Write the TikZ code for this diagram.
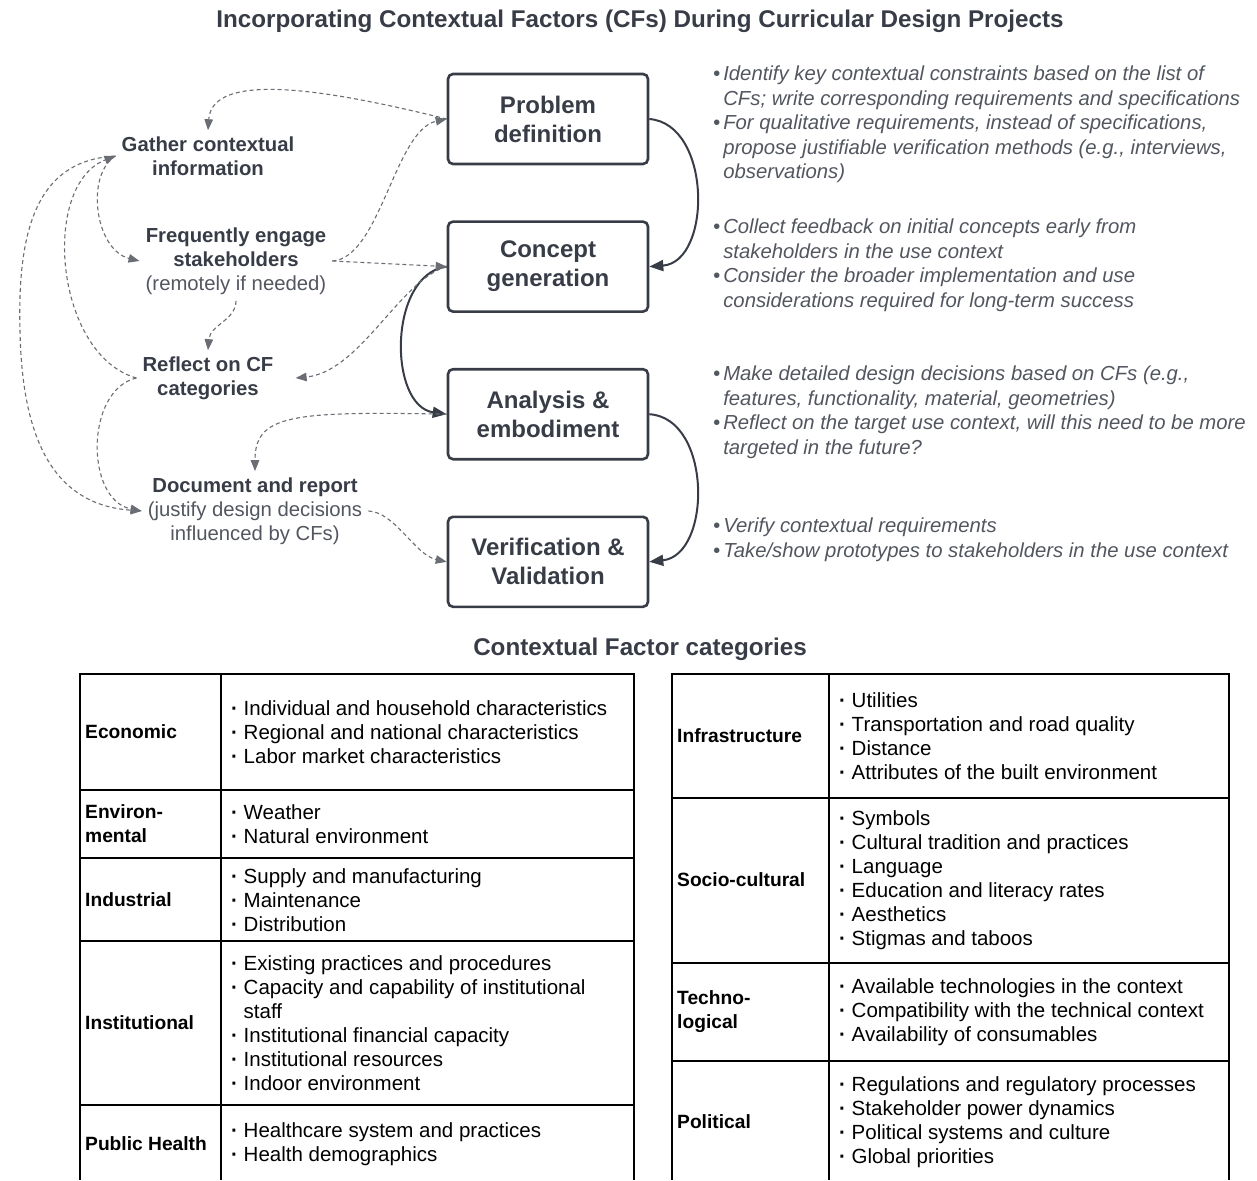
\documentclass[tikz,border=0pt]{standalone}
\usepackage{fontspec}
\setmainfont{Liberation Sans}
\usepackage{xcolor}
\usetikzlibrary{
  arrows.meta,
  positioning
}
\definecolor{ink}{RGB}{56,60,70}
\definecolor{tipgray}{RGB}{82,86,95}
\newcommand{\bul}{\textbullet\hspace{3pt}}
\newcommand{\tipind}{\hphantom{\bul}}
\newcommand{\cfdot}{{\bfseries ·}\ }
\newcommand{\aside}[1]{{\mdseries\color{tipgray}#1}}
\tikzset{
  stage box/.style={
    draw=ink, line width=2.6pt, rounded corners=5pt,
    minimum width=200pt, minimum height=90pt,
    align=center, text=ink,
    font=\fontsize{24}{29}\selectfont\bfseries
  },
  act label/.style={
    align=center, text=ink, inner sep=6pt,
    font=\fontsize{20.3}{24.2}\selectfont\bfseries
  },
  note text/.style={
    anchor=north west, align=left, inner sep=0pt, text=tipgray,
    font=\fontsize{20.3}{24.4}\selectfont\itshape
  },
  head text/.style={
    text=ink, inner sep=0pt,
    font=\fontsize{24.2}{29}\selectfont\bfseries
  },
  flow/.style={
    draw=ink, line width=2pt, -{Triangle[length=14pt,width=11pt]}
  },
  link/.style={
    draw=ink!75, line width=1.1pt, dash pattern=on 4pt off 3pt,
    -{Triangle[length=11pt,width=8.5pt]}
  },
  grid line/.style={
    draw=black, line width=2.4pt, line join=miter
  },
  cat name/.style={
    anchor=west, align=left, inner sep=0pt,
    font=\fontsize{19.2}{24}\selectfont\bfseries
  },
  cat items/.style={
    anchor=west, align=left, inner sep=0pt,
    font=\fontsize{20.5}{23.9}\selectfont
  },
}
\begin{document}
\begin{tikzpicture}[x=1pt, y=-1pt]
  \useasboundingbox (0,0) rectangle (1257,1180);

  \node[head text] (title) at (640,21)
    {Incorporating Contextual Factors (CFs) During Curricular Design Projects};

  % design stages
  \node[stage box] (prob) at (548,119) {Problem\\definition};
  \node[stage box, below=55pt of prob] (conc) {Concept\\generation};
  \node[stage box, below=55pt of conc] (anly) {Analysis \&\\embodiment};
  \node[stage box, below=55pt of anly] (veri) {Verification \&\\Validation};

  % contextual activities
  \node[act label] (gather)  at (208,156) {Gather contextual\\information};
  \node[act label] (engage)  at (236,261)
    {Frequently engage\\stakeholders\\\aside{(remotely if needed)}};
  \node[act label] (reflect) at (208,378) {Reflect on CF\\categories};
  \node[act label] (doc)     at (255,511)
    {Document and report\\\aside{(justify design decisions}\\\aside{influenced by CFs)}};

  % notes per stage
  \node[note text] (probnote) at (713,66)
    {\bul Identify key contextual constraints based on the list of\\
     \tipind CFs; write corresponding requirements and specifications\\
     \bul For qualitative requirements, instead of specifications,\\
     \tipind propose justifiable verification methods (e.g., interviews,\\
     \tipind observations)};
  \node[note text] (concnote) at (713,219)
    {\bul Collect feedback on initial concepts early from\\
     \tipind stakeholders in the use context\\
     \bul Consider the broader implementation and use\\
     \tipind considerations required for long-term success};
  \node[note text] (anlynote) at (713,366)
    {\bul Make detailed design decisions based on CFs (e.g.,\\
     \tipind features, functionality, material, geometries)\\
     \bul Reflect on the target use context, will this need to be more\\
     \tipind targeted in the future?};
  \node[note text] (verinote) at (713,518)
    {\bul Verify contextual requirements\\
     \bul Take/show prototypes to stakeholders in the use context};

  % stage flow
  \draw[flow] (prob.east) .. controls (712,124) and (712,262) .. (conc.east);
  \draw[flow] (conc.west) .. controls (388,274) and (388,406) .. (anly.west);
  \draw[flow] (anly.east) .. controls (712,418) and (712,555) .. (veri.east);

  % context links
  \coordinate (farleft) at (20,330);
  \draw[link] (prob.west) .. controls (330,90) and (212,70) .. (gather.north);
  \draw[link] (engage.east) .. controls (380,258) and (395,130) .. (prob.west);
  \draw[link] (engage.east) -- (conc.west);
  \draw[link] (conc.west) .. controls (400,280) and (360,372) .. ([xshift=16pt]reflect.east);
  \draw[link] (gather.west) .. controls (85,175) and (95,250) .. (engage.west);
  \draw[link] (reflect.west) .. controls (55,355) and (40,185) .. (gather.west);
  \draw[link] (gather.west) .. controls (42,160) and (17,220) .. (farleft)
    .. controls (22,450) and (60,505) .. (doc.west);
  \draw[link] (reflect.west) .. controls (85,390) and (85,500) .. (doc.west);
  \draw[link] (engage.south) .. controls (236,320) and (210,325) .. (reflect.north);
  \draw[link] (anly.west) .. controls (290,411) and (255,415) .. (doc.north);
  \draw[link] (doc.east) .. controls (395,512) and (415,555) .. (veri.west);

  % categories
  \node[head text] (cftitle) at (640,649) {Contextual Factor categories};

  \draw[grid line] (80,1180) -- (80,674) -- (634,674) -- (634,1180);
  \draw[grid line] (221,674) -- (221,1180);
  \foreach \y in {790,858,941,1105}
    \draw[grid line] (80,\y) -- (634,\y);

  \draw[grid line] (672,1180) -- (672,674) -- (1229,674) -- (1229,1180);
  \draw[grid line] (829,674) -- (829,1180);
  \foreach \y in {798,963,1061}
    \draw[grid line] (672,\y) -- (1229,\y);

  \node[cat name] (econ) at (85,732) {Economic};
  \node[cat items] (econlist) at (231,732)
    {\cfdot Individual and household characteristics\\
     \cfdot Regional and national characteristics\\
     \cfdot Labor market characteristics};
  \node[cat name] (envi) at (85,824) {Environ-\\mental};
  \node[cat items] (envilist) at (231,824)
    {\cfdot Weather\\\cfdot Natural environment};
  \node[cat name] (indu) at (85,900) {Industrial};
  \node[cat items] (indulist) at (231,900)
    {\cfdot Supply and manufacturing\\\cfdot Maintenance\\\cfdot Distribution};
  \node[cat name] (inst) at (85,1023) {Institutional};
  \node[cat items] (instlist) at (231,1023)
    {\cfdot Existing practices and procedures\\
     \cfdot Capacity and capability of institutional\\
     \hphantom{\cfdot}staff\\
     \cfdot Institutional financial capacity\\
     \cfdot Institutional resources\\
     \cfdot Indoor environment};
  \node[cat name] (heal) at (85,1144) {Public Health};
  \node[cat items] (heallist) at (231,1144)
    {\cfdot Healthcare system and practices\\\cfdot Health demographics};

  \node[cat name] (infr) at (677,736) {Infrastructure};
  \node[cat items] (infrlist) at (839,736)
    {\cfdot Utilities\\
     \cfdot Transportation and road quality\\
     \cfdot Distance\\
     \cfdot Attributes of the built environment};
  \node[cat name] (soci) at (677,880) {Socio-cultural};
  \node[cat items] (socilist) at (839,880)
    {\cfdot Symbols\\
     \cfdot Cultural tradition and practices\\
     \cfdot Language\\
     \cfdot Education and literacy rates\\
     \cfdot Aesthetics\\
     \cfdot Stigmas and taboos};
  \node[cat name] (tech) at (677,1012) {Techno-\\logical};
  \node[cat items] (techlist) at (839,1012)
    {\cfdot Available technologies in the context\\
     \cfdot Compatibility with the technical context\\
     \cfdot Availability of consumables};
  \node[cat name] (poli) at (677,1122) {Political};
  \node[cat items] (polilist) at (839,1122)
    {\cfdot Regulations and regulatory processes\\
     \cfdot Stakeholder power dynamics\\
     \cfdot Political systems and culture\\
     \cfdot Global priorities};

\end{tikzpicture}
\end{document}
